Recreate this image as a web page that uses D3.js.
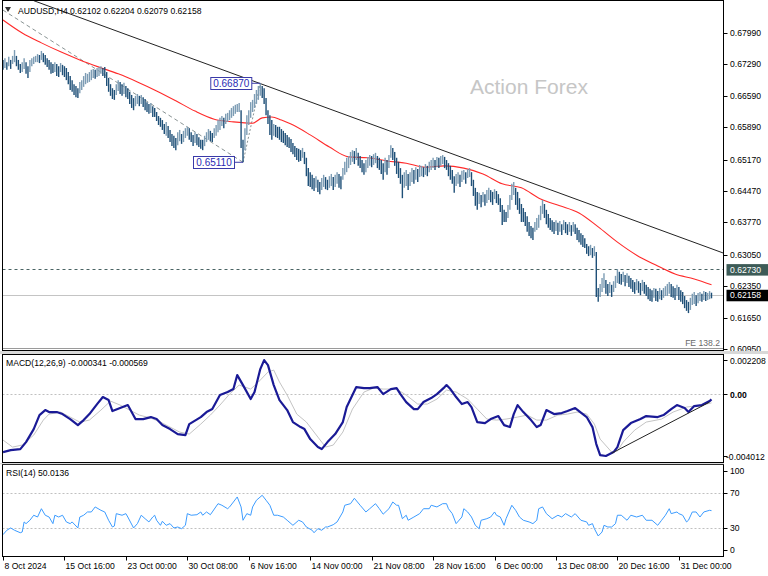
<!DOCTYPE html>
<html><head><meta charset="utf-8">
<script src="https://cdn.jsdelivr.net/npm/d3@7"></script>
<style>
body{margin:0;background:#fff}
svg{display:block}
text{font-family:"Liberation Sans",Arial,sans-serif}
</style></head>
<body><svg id="c" width="768" height="576"></svg>
<script>
const symbol = "AUDUSD,H4";
const lastQuote = ["0.62102","0.62204","0.62079","0.62158"];
const highs = [
.6739,.6743,.6734,.6746,.6739,.6748,.6761,.6748,.6739,.6730,
.6734,.6743,.6734,.6725,.6739,.6743,.6746,.6748,.6752,.6750,
.6759,.6754,.6750,.6743,.6739,.6734,.6730,.6734,.6730,.6725,
.6732,.6728,.6725,.6721,.6712,.6703,.6694,.6685,.6681,.6676,
.6690,.6694,.6703,.6710,.6708,.6712,.6717,.6719,.6717,.6721,
.6723,.6725,.6721,.6723,.6712,.6699,.6685,.6676,.6672,.6685,
.6694,.6690,.6685,.6688,.6681,.6676,.6668,.6661,.6654,.6659,
.6663,.6659,.6661,.6656,.6652,.6645,.6641,.6643,.6636,.6632,
.6623,.6614,.6610,.6605,.6596,.6601,.6592,.6583,.6574,.6570,
.6565,.6578,.6583,.6574,.6581,.6587,.6590,.6587,.6578,.6572,
.6578,.6574,.6567,.6561,.6561,.6570,.6578,.6585,.6581,.6576,
.6587,.6594,.6605,.6610,.6614,.6610,.6619,.6621,.6627,.6632,
.6636,.6639,.6641,.6643,.6627,.6561,.6587,.6616,.6627,.6645,
.6650,.6663,.6672,.6681,.6687,.6681,.6676,.6654,.6627,.6616,
.6605,.6596,.6594,.6590,.6590,.6585,.6581,.6576,.6572,.6567,
.6563,.6554,.6547,.6543,.6541,.6538,.6543,.6534,.6521,.6498,
.6489,.6483,.6476,.6480,.6472,.6467,.6476,.6483,.6478,.6472,
.6480,.6485,.6478,.6483,.6489,.6485,.6480,.6498,.6512,.6521,
.6525,.6534,.6538,.6536,.6543,.6532,.6525,.6516,.6509,.6516,
.6523,.6527,.6525,.6529,.6532,.6525,.6521,.6516,.6509,.6521,
.6516,.6527,.6549,.6543,.6534,.6521,.6512,.6498,.6483,.6489,
.6494,.6485,.6489,.6498,.6494,.6500,.6496,.6505,.6503,.6500,
.6507,.6503,.6512,.6516,.6521,.6516,.6523,.6521,.6525,.6527,
.6523,.6516,.6509,.6503,.6494,.6480,.6485,.6489,.6483,.6492,
.6494,.6489,.6496,.6498,.6489,.6472,.6454,.6445,.6443,.6438,
.6445,.6440,.6449,.6454,.6449,.6445,.6451,.6447,.6440,.6431,
.6416,.6405,.6400,.6416,.6438,.6463,.6467,.6454,.6445,.6431,
.6418,.6409,.6400,.6391,.6378,.6369,.6365,.6378,.6387,.6394,
.6414,.6427,.6418,.6405,.6396,.6387,.6382,.6378,.6382,.6376,
.6380,.6373,.6382,.6378,.6373,.6378,.6371,.6378,.6373,.6365,
.6360,.6353,.6349,.6342,.6329,.6324,.6327,.6320,.6324,.6311,
.6231,.6240,.6253,.6264,.6249,.6240,.6244,.6238,.6246,.6258,
.6273,.6267,.6262,.6267,.6260,.6264,.6258,.6253,.6249,.6244,
.6251,.6246,.6242,.6249,.6244,.6238,.6233,.6229,.6226,.6231,
.6229,.6224,.6231,.6226,.6231,.6235,.6240,.6244,.6240,.6235,
.6231,.6238,.6233,.6226,.6222,.6213,.6204,.6200,.6209,.6218,
.6222,.6215,.6220,.6222,.6218,.6224,.6222,.6220,.6224,.62204];
const lows = [
.6717,.6721,.6717,.6725,.6719,.6730,.6734,.6725,.6717,.6710,
.6712,.6719,.6708,.6699,.6712,.6725,.6730,.6734,.6734,.6732,
.6739,.6734,.6728,.6723,.6717,.6708,.6710,.6712,.6703,.6701,
.6712,.6705,.6701,.6694,.6685,.6672,.6668,.6661,.6656,.6654,
.6665,.6672,.6679,.6685,.6688,.6690,.6694,.6699,.6697,.6701,
.6703,.6708,.6703,.6699,.6681,.6668,.6659,.6652,.6650,.6661,
.6670,.6663,.6659,.6663,.6656,.6652,.6641,.6632,.6627,.6636,
.6641,.6636,.6641,.6634,.6627,.6623,.6619,.6621,.6612,.6612,
.6603,.6594,.6590,.6583,.6574,.6570,.6565,.6556,.6547,.6543,
.6538,.6549,.6558,.6552,.6556,.6565,.6570,.6561,.6556,.6547,
.6554,.6549,.6545,.6541,.6538,.6547,.6556,.6561,.6558,.6556,
.6565,.6570,.6578,.6583,.6592,.6587,.6596,.6601,.6605,.6610,
.6614,.6619,.6623,.6623,.6543,.6511,.6538,.6572,.6594,.6610,
.6623,.6632,.6641,.6650,.6659,.6654,.6641,.6616,.6596,.6572,
.6561,.6570,.6567,.6565,.6561,.6556,.6554,.6549,.6545,.6543,
.6534,.6529,.6523,.6516,.6512,.6514,.6521,.6507,.6480,.6458,
.6456,.6451,.6447,.6454,.6445,.6440,.6449,.6456,.6451,.6449,
.6454,.6458,.6449,.6456,.6463,.6454,.6451,.6472,.6483,.6489,
.6498,.6505,.6512,.6507,.6516,.6503,.6498,.6489,.6483,.6489,
.6498,.6503,.6500,.6505,.6509,.6498,.6494,.6485,.6472,.6489,
.6483,.6498,.6521,.6516,.6503,.6485,.6476,.6463,.6431,.6454,
.6458,.6449,.6458,.6467,.6463,.6472,.6467,.6478,.6480,.6478,
.6483,.6480,.6489,.6494,.6498,.6494,.6500,.6498,.6503,.6507,
.6498,.6494,.6480,.6472,.6463,.6443,.6458,.6463,.6456,.6467,
.6472,.6463,.6476,.6478,.6458,.6436,.6414,.6405,.6418,.6411,
.6422,.6414,.6420,.6427,.6422,.6416,.6429,.6420,.6416,.6400,
.6371,.6378,.6378,.6387,.6405,.6427,.6438,.6416,.6405,.6396,
.6378,.6378,.6369,.6356,.6347,.6342,.6338,.6356,.6360,.6365,
.6382,.6396,.6387,.6373,.6365,.6360,.6356,.6351,.6358,.6349,
.6356,.6349,.6360,.6353,.6349,.6356,.6347,.6356,.6351,.6338,
.6333,.6327,.6322,.6320,.6307,.6302,.6304,.6298,.6302,.6211,
.6200,.6211,.6222,.6231,.6218,.6213,.6220,.6211,.6222,.6231,
.6242,.6240,.6238,.6244,.6235,.6242,.6233,.6229,.6222,.6218,
.6226,.6220,.6215,.6224,.6218,.6213,.6206,.6202,.6200,.6209,
.6202,.6200,.6206,.6204,.6209,.6213,.6213,.6218,.6211,.6209,
.6204,.6213,.6204,.6200,.6195,.6186,.6180,.6175,.6182,.6193,
.6195,.6191,.6197,.6202,.6200,.6204,.6202,.6204,.6206,.62079];
const maPoints = [[0,.6828],[10,.6799],[20,.6777],[30,.6757],[40,.6739],[50,.6723],[60,.6708],[70,.6690],[80,.6670],[90,.6648],[100,.6625],[110,.6607],[120,.6601],[130,.6598],[135,.6610],[140,.6612],[145,.6605],[150,.6596],[160,.6572],[170,.6545],[180,.6523],[190,.6521],[200,.6514],[210,.6509],[220,.6500],[230,.6503],[240,.6498],[250,.6485],[260,.6463],[270,.6454],[280,.6429],[290,.6414],[300,.6398],[310,.6367],[320,.6333],[330,.6304],[340,.6282],[350,.6262],[360,.6251],[369,.6238]];
const trendLine = [[16,.6871],[375,.6309]];
const channelLine = [[0,.6850],[125,.6511]];
const swingLine = [[125,.6511],[134,.6687]];
const swingLabels = [{bar:134,price:.66870,text:"0.66870"},{bar:125,price:.65110,text:"0.65110"}];
const resistance = 0.62730, lastPrice = 0.62158, feLevel = 0.6097;
const priceTicks = [0.67990,0.67290,0.66590,0.65890,0.65170,0.64470,0.63770,0.63050,0.62350,0.61650,0.60950];

const macdPoints = [[0,-0.003758],[4,-0.003628],[9,-0.003564],[12,-0.00311],[16,-0.002268],[19,-0.001361],[22,-0.001037],[24,-0.001166],[28,-0.001166],[31,-0.001296],[35,-0.00162],[39,-0.002009],[42,-0.001685],[45,-0.001296],[49,-0.000648],[52,-0.000194],[55,-0.000389],[57,-0.001101],[61,-0.000907],[65,-0.000713],[67,-0.001166],[69,-0.00162],[73,-0.00162],[77,-0.00149],[80,-0.00162],[83,-0.002009],[87,-0.002268],[91,-0.002592],[95,-0.002656],[97,-0.001944],[103,-0.00149],[106,-0.001166],[109,-0.000972],[113,-0.000065],[117,0.00013],[120,0.000324],[122,0.001231],[125,0.000583],[129,-0.000324],[131,0.00013],[134,0.00162],[136,0.0022],[138,0.001879],[141,0.000583],[144,-0.000389],[148,-0.001037],[151,-0.001814],[155,-0.002138],[157,-0.002268],[160,-0.002916],[164,-0.003434],[166,-0.003564],[169,-0.00311],[173,-0.002592],[177,-0.001814],[179,-0.000842],[182,-0.000065],[184,0.000454],[188,0.000389],[191,0.000389],[195,0.000454],[198,0],[202,0.000324],[205,0.000389],[207,0],[210,-0.000518],[214,-0.000972],[216,-0.000972],[219,-0.000518],[223,-0.000259],[226,0],[230,0.000454],[231,0.000583],[233,0.000324],[236,-0.000194],[239,-0.000648],[242,-0.000518],[244,-0.000842],[247,-0.001814],[251,-0.001879],[254,-0.00162],[258,-0.001425],[261,-0.002009],[264,-0.002138],[266,-0.001296],[268,-0.000713],[271,-0.001166],[275,-0.001685],[278,-0.002138],[280,-0.002009],[283,-0.001037],[287,-0.001296],[291,-0.001231],[294,-0.001101],[298,-0.000907],[302,-0.001296],[304,-0.00149],[307,-0.002138],[309,-0.00324],[311,-0.003952],[314,-0.004012],[318,-0.003758],[320,-0.003434],[323,-0.002333],[327,-0.001879],[332,-0.00162],[335,-0.001425],[341,-0.00149],[344,-0.001361],[348,-0.000972],[351,-0.000713],[355,-0.000907],[357,-0.001166],[360,-0.000778],[364,-0.000713],[368,-0.000454],[369,-0.000341]];
const signalPoints = [[0,-0.00298],[5,-0.003434],[10,-0.003304],[16,-0.002656],[21,-0.001685],[24,-0.001296],[30,-0.001166],[35,-0.00149],[40,-0.001814],[45,-0.001685],[51,-0.001037],[56,-0.000454],[61,-0.000713],[66,-0.001037],[71,-0.001361],[77,-0.001555],[82,-0.001814],[87,-0.002138],[92,-0.002462],[97,-0.002592],[103,-0.001944],[108,-0.001361],[113,-0.000713],[118,0],[123,0.000583],[129,0.000324],[133,0.000778],[138,0.001425],[141,0.001555],[144,0.000778],[148,-0.000065],[153,-0.001296],[158,-0.001814],[164,-0.002786],[168,-0.003434],[172,-0.003304],[177,-0.002462],[182,-0.000972],[188,0.00013],[193,0.000389],[198,0.000324],[205,0.000324],[210,-0.000065],[216,-0.000648],[221,-0.000648],[226,-0.000324],[231,0.000259],[236,0.00013],[242,-0.000324],[247,-0.000972],[252,-0.00162],[257,-0.001685],[262,-0.00162],[268,-0.00149],[273,-0.001361],[278,-0.001685],[283,-0.001685],[289,-0.001361],[294,-0.001296],[299,-0.001166],[304,-0.001296],[308,-0.001944],[311,-0.002916],[317,-0.003758],[320,-0.003693],[323,-0.00311],[329,-0.002333],[335,-0.001814],[343,-0.00162],[349,-0.001166],[356,-0.000842],[364,-0.000713],[369,-0.000569]];
const macdTrend = [[317,-0.00383],[368,-0.00052]];
const macdTicks = [0.002208,0,-0.004012];
const macdTickLabels = ["0.002208","0.00","-0.004012"];

const rsiPoints = [[0,22.8],[2,27.8],[4,30.4],[6,27.8],[9,25],[10,25.8],[11,37.2],[12,35.3],[14,39.1],[16,44.8],[18,42.8],[20,52.2],[22,44.8],[24,42.8],[26,35.3],[27,44.8],[29,42.8],[31,44.8],[33,37.2],[35,35.3],[36,37.2],[39,30.4],[40,42.8],[42,44.8],[44,48.5],[46,48.5],[48,54.2],[51,50.4],[53,48.5],[55,39.1],[57,31.5],[58,32.6],[59,46.6],[62,44.8],[64,46.6],[65,42.8],[68,30.4],[70,35.3],[72,44.8],[74,40.9],[76,37.2],[78,42.8],[79,44.8],[80,39.1],[82,33.4],[83,38],[85,33.4],[87,35.3],[89,30.4],[91,31.5],[93,29.6],[95,33.4],[96,46.6],[98,44.8],[101,45.4],[103,48.5],[104,44.8],[106,48.5],[108,45.4],[109,48.5],[112,57.9],[114,56.1],[117,52.2],[118,54.2],[120,59.8],[122,65.5],[124,54.2],[125,39.1],[127,46.6],[129,44.8],[130,54.2],[132,61.8],[135,67.4],[137,61.8],[139,56.1],[141,44.8],[143,44.8],[146,42.8],[148,39.1],[151,33.4],[154,39.1],[156,37.2],[158,31.5],[161,27.8],[162,25],[164,29.6],[166,27.8],[168,31.5],[169,31.5],[172,34.1],[174,37.2],[177,48.5],[178,56.1],[181,57.9],[183,64],[186,56.1],[189,48.5],[191,52.2],[194,57.9],[196,52.2],[198,46],[201,52.2],[203,59.8],[205,56.1],[206,56.1],[208,40.9],[210,44.8],[211,39.1],[214,42.8],[217,46.6],[219,52.2],[222,52.2],[223,56.1],[226,54.2],[229,57.9],[231,57.9],[232,52.2],[234,46.6],[236,35.3],[239,42.8],[240,52.2],[242,48.5],[244,42.8],[246,33.4],[248,29.6],[249,39.1],[252,40.9],[254,42.8],[256,48.5],[257,44.8],[259,42.8],[261,33.4],[262,40.9],[265,56.1],[267,50.4],[269,42.8],[271,39.1],[274,37.2],[276,35.3],[278,39.1],[279,52.2],[281,54.2],[283,46.6],[286,40.9],[289,44.8],[291,42.8],[293,46.6],[296,42.8],[298,46.6],[301,39.1],[304,37.2],[305,33.4],[307,35.3],[308,29.6],[310,21.3],[312,25.8],[313,33.4],[315,31.5],[317,31.5],[319,35.3],[320,44.8],[322,44.8],[325,39.1],[327,44.8],[330,42.8],[333,44.8],[335,39.1],[338,39.1],[341,33.4],[343,39.1],[345,44.8],[347,52.2],[348,46.6],[351,48.5],[352,46.6],[354,44.8],[356,37.2],[357,39.1],[359,48.5],[361,48.5],[363,42.8],[365,48.5],[368,50.4],[369,50.0136]];
const rsiTicks = [100,70,30,0];
const rsiLevels = [70,30];
const rsiLast = "50.0136";
const macdLast = ["-0.000341","-0.000569"];

const dateLabels = ["8 Oct 2024","15 Oct 16:00","23 Oct 00:00","30 Oct 08:00","6 Nov 16:00","14 Nov 00:00","21 Nov 08:00","28 Nov 16:00","6 Dec 00:00","13 Dec 08:00","20 Dec 16:00","31 Dec 00:00"];
const dateLabelBars = [0,32,64,96,128,160,192,224,256,288,320,352];

// ---------- drawing ----------
const svg = d3.select("#c");
const FS = 8.6;
const PL = 2.5, PR = 723.5;
const mainBox = [0.5, 350.5], macdBox = [354.5, 462.5], rsiBox = [464.5, 556.5];
const x = d3.scaleLinear().domain([0, 369]).range([3, 711.5]);
const yP = d3.scaleLinear().domain([0.6799, 0.6095]).range([33, 349]);
const yM = d3.scaleLinear().domain([0.002208, -0.004012]).range([360, 456]);
const yR = d3.scaleLinear().domain([0, 100]).range([554.8, 466.5]);

const defs = svg.append("defs");
function clip(id, box){ defs.append("clipPath").attr("id", id).append("rect")
  .attr("x", PL+0.5).attr("y", box[0]+0.5).attr("width", PR-PL-1).attr("height", box[1]-box[0]-1); }
clip("cm", mainBox); clip("cd", macdBox); clip("cr", rsiBox);

const gMain = svg.append("g").attr("clip-path", "url(#cm)");
const gMacd = svg.append("g").attr("clip-path", "url(#cd)");
const gRsi = svg.append("g").attr("clip-path", "url(#cr)");

function hline(g, y, color, dash, w){
  g.append("line").attr("x1", PL).attr("x2", PR).attr("y1", y).attr("y2", y)
   .attr("stroke", color).attr("stroke-width", w||1).attr("stroke-dasharray", dash||null);
}

// watermark
gMain.append("text").attr("x", 470).attr("y", 94).attr("font-size", 21).attr("fill", "#c6c6c6").text("Action Forex");

// levels
hline(gMain, Math.round(yP(feLevel))+0.5, "#9a9a9a");
hline(gMain, Math.round(yP(resistance))+0.5, "#4a6464", "3,3");
hline(gMain, Math.round(yP(lastPrice))+0.5, "#c4c4c4");

// channel dashed line and swing dotted line
const lineP = d3.line().x(d => x(d[0])).y(d => yP(d[1]));
gMain.append("path").attr("d", lineP(channelLine)).attr("fill","none").attr("stroke","#8a9494").attr("stroke-dasharray","4,3");
gMain.append("path").attr("d", lineP(swingLine)).attr("fill","none").attr("stroke","#8a9494").attr("stroke-dasharray","2,2");

// trend line
gMain.append("path").attr("d", lineP(trendLine)).attr("fill","none").attr("stroke","#222").attr("stroke-width",1);

// moving average
gMain.append("path").attr("d", d3.line().curve(d3.curveMonotoneX).x(d => x(d[0])).y(d => yP(d[1]))(maPoints))
  .attr("fill","none").attr("stroke","#ff2a2a").attr("stroke-width",1.1);

// bars
const bars = highs.map((h, i) => ({i, h, l: lows[i]}));
gMain.selectAll("line.bar").data(bars).enter().append("line").attr("class","bar")
  .attr("x1", d => x(d.i)).attr("x2", d => x(d.i))
  .attr("y1", d => yP(d.h)).attr("y2", d => yP(d.l))
  .attr("stroke", d => {
    if (d.i === 0) return "#1f5078";
    const m = (d.h + d.l)/2, pm = (highs[d.i-1] + lows[d.i-1])/2;
    return m >= pm ? "#7c9cb4" : "#1f5078";
  })
  .attr("stroke-width", 1.4);

// swing labels
swingLabels.forEach(s => {
  const bx = x(s.bar), by = yP(s.price);
  const w = 41, h = 12, right = bx - 9;
  gMain.append("line").attr("x1", right).attr("x2", bx).attr("y1", by).attr("y2", by).attr("stroke","#3a3aa8");
  gMain.append("rect").attr("x", right - w + 0.5).attr("y", Math.round(by - h/2) + 0.5).attr("width", w).attr("height", h)
    .attr("fill","#fff").attr("stroke","#3a3aa8");
  gMain.append("text").attr("x", right - w/2 + 0.5).attr("y", by + 3.5).attr("text-anchor","middle")
    .attr("font-size", 10).attr("fill","#2a2ab4").text(s.text);
});

// FE text
svg.append("text").attr("x", 720).attr("y", 346).attr("text-anchor","end").attr("font-size", FS).attr("fill","#6a6a6a").text("FE 138.2");

// header
svg.append("path").attr("d","M5,7 L11,7 L8,12 Z").attr("fill","#333");
svg.append("text").attr("x", 18).attr("y", 13.5).attr("font-size", FS).attr("fill","#000")
  .text(symbol + "  " + lastQuote.join(" "));

// right price axis
const axisG = svg.append("g");
priceTicks.forEach(p => {
  const y = Math.round(yP(p)) + 0.5;
  axisG.append("line").attr("x1", PR).attr("x2", PR+4).attr("y1", y).attr("y2", y).attr("stroke","#000");
  axisG.append("text").attr("x", 730).attr("y", y + 2.5).attr("font-size", FS).attr("fill","#000").text(p.toFixed(5));
});
function tag(p, fill, txt){
  const y = yP(p);
  axisG.append("rect").attr("x", PR+3).attr("y", y - 5).attr("width", 768-PR-3).attr("height", 11.5).attr("fill", fill);
  axisG.append("text").attr("x", 730).attr("y", y + 3.5).attr("font-size", FS).attr("fill","#fff").text(txt);
}
tag(resistance, "#3d5b57", resistance.toFixed(5));
tag(lastPrice, "#000", lastPrice.toFixed(5));

// MACD panel
hline(gMacd, Math.round(yM(0))+0.5, "#c0c0c0", "2,2");
const lineM = d3.line().x(d => x(d[0])).y(d => yM(d[1]));
gMacd.append("path").attr("d", lineM(signalPoints)).attr("fill","none").attr("stroke","#c4c4c4").attr("stroke-width",1);
gMacd.append("path").attr("d", lineM(macdPoints)).attr("fill","none").attr("stroke","#1a1a96").attr("stroke-width",2.2).attr("stroke-linejoin","round");
gMacd.append("path").attr("d", lineM(macdTrend)).attr("fill","none").attr("stroke","#222").attr("stroke-width",1);
svg.append("text").attr("x", 6).attr("y", 366).attr("font-size", FS).attr("fill","#000")
  .text("MACD(12,26,9) " + macdLast.join(" "));
macdTicks.forEach((v, k) => {
  const y = Math.round(yM(v)) + 0.5;
  axisG.append("line").attr("x1", PR).attr("x2", PR+4).attr("y1", y).attr("y2", y).attr("stroke","#000");
  axisG.append("text").attr("x", v < 0 ? 726 : 730).attr("y", y + 3).attr("font-size", FS)
    .attr("font-weight", v === 0 ? "bold" : null).attr("fill","#000").text(macdTickLabels[k]);
});

// RSI panel
rsiLevels.forEach(v => hline(gRsi, Math.round(yR(v))+0.5, "#c0c0c0", "2,2"));
gRsi.append("path").attr("d", d3.line().x(d => x(d[0])).y(d => yR(d[1]))(rsiPoints))
  .attr("fill","none").attr("stroke","#3c9cff").attr("stroke-width",1);
svg.append("text").attr("x", 6).attr("y", 476).attr("font-size", FS).attr("fill","#000").text("RSI(14) " + rsiLast);
rsiTicks.forEach(v => {
  const y = Math.min(550, Math.max(471, yR(v)));
  axisG.append("line").attr("x1", PR).attr("x2", PR+4).attr("y1", Math.round(y)+0.5).attr("y2", Math.round(y)+0.5).attr("stroke","#000");
  axisG.append("text").attr("x", 730).attr("y", y + 3).attr("font-size", FS).attr("fill","#000").text(v);
});

// panel frames
[mainBox, macdBox, rsiBox].forEach(b => {
  svg.append("rect").attr("x", PL).attr("y", b[0]).attr("width", PR-PL).attr("height", b[1]-b[0])
    .attr("fill","none").attr("stroke","#000").attr("stroke-width",1);
});
svg.append("rect").attr("x", 0).attr("y", 351).attr("width", 768).attr("height", 3).attr("fill","#d8d8d8");
svg.append("rect").attr("x", 0).attr("y", 463).attr("width", PR+0.5).attr("height", 1.2).attr("fill","#d8d8d8");

// time axis
dateLabelBars.forEach((b, k) => {
  const xx = Math.round(x(b)) + 0.5;
  svg.append("line").attr("x1", xx).attr("x2", xx).attr("y1", rsiBox[1]).attr("y2", rsiBox[1]+4).attr("stroke","#000");
  svg.append("text").attr("x", xx + 1).attr("y", 569).attr("font-size", FS).attr("fill","#000").text(dateLabels[k]);
});
</script></body></html>
